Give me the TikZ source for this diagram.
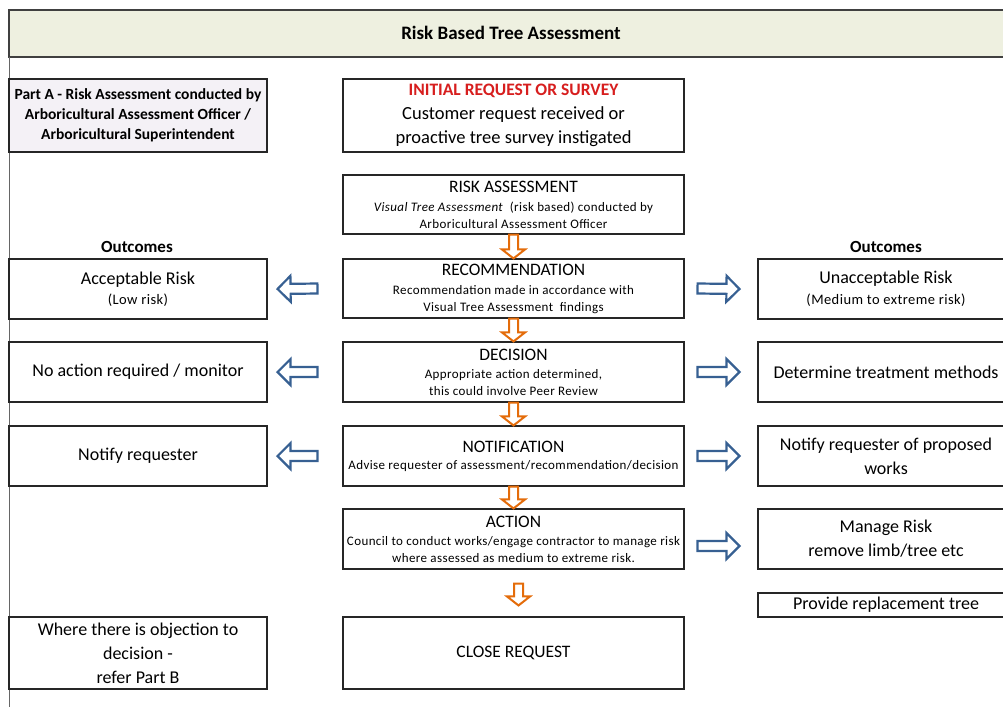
\documentclass[tikz,border=0pt]{standalone}
\usepackage{fontspec}
\setmainfont{Carlito}
\newfontfamily\spacedfont[LetterSpace=3]{Carlito}
\usetikzlibrary{calc}

\definecolor{hdrfill}{RGB}{238,240,224}
\definecolor{partfill}{RGB}{244,241,246}
\definecolor{arrorange}{RGB}{228,108,10}
\definecolor{arrblue}{RGB}{55,96,146}
\definecolor{titlered}{RGB}{215,30,30}

\newcommand\bigtxt{\rmfamily\fontsize{18}{24}\selectfont}
\newcommand\headtxt{\rmfamily\fontsize{17.5}{24}\selectfont}
\newcommand\smalltxt{\spacedfont\fontsize{13}{17}\selectfont}
\newcommand\sidesmall{\spacedfont\fontsize{14.5}{20}\selectfont}

% hollow block arrow: style, from, to, half shaft, half head, head length
\newcommand\blockarrow[6]{%
  \draw[#1] let \p1=(#2), \p2=(#3), \n1={atan2(\y2-\y1,\x2-\x1)}, \n2={veclen(\x2-\x1,\y2-\y1)} in
    [shift={(\p1)}, rotate=\n1]
    (0pt,#4) -- ({\n2*1pt-#6},#4) -- ({\n2*1pt-#6},#5) -- ({\n2*1pt},0pt)
    -- ({\n2*1pt-#6},-#5) -- ({\n2*1pt-#6},-#4) -- (0pt,-#4) -- cycle;}

\begin{document}
\begin{tikzpicture}[x=1pt,y=-1pt,
  box/.style={draw=black!85, line width=1.1pt, fill=white, minimum width=341pt,
    minimum height=60pt, align=center, inner sep=1pt, font=\smalltxt},
  leftbox/.style={box, minimum width=258pt, font=\sidesmall},
  rightbox/.style={box, minimum width=256pt, font=\sidesmall},
  outhead/.style={font=\bfseries\fontsize{17}{20}\selectfont},
  downarr/.style={draw=arrorange, line width=2pt, fill=white},
  sidearr/.style={draw=arrblue, line width=2.2pt, fill=white}]
  \clip (0,0) rectangle (1003,707);
  \fill[white] (0,0) rectangle (1003,707);

  % header and frame
  \draw[black!75, line width=1.2pt, fill=hdrfill] (9,10) rectangle (1020,57);
  \node[font=\bfseries\fontsize{19}{22}\selectfont] (title) at (511,33) {Risk Based Tree Assessment};
  \draw[black!60, line width=1pt] (9,57) -- (9,707);

  % centre column
  \node[box, minimum height=73pt, font=\fontsize{18.5}{24}\selectfont] (init) at (513.5,115.5)
    {{\bfseries\fontsize{17.5}{24}\selectfont\color{titlered}INITIAL REQUEST OR SURVEY}\\Customer request received or\\proactive tree survey instigated};
  \node[box, minimum height=59pt] (risk) at (513.5,204.5)
    {{\headtxt RISK ASSESSMENT}\\[2pt]\textit{Visual Tree Assessment}\ \ (risk based) conducted by\\Arboricultural Assessment Officer};
  \node[box, minimum height=59pt] (rec) at (513.5,288.5)
    {{\headtxt RECOMMENDATION}\\[2pt]Recommendation made in accordance with\\Visual Tree Assessment\ \ findings};
  \node[box] (dec) at (513.5,372)
    {{\headtxt DECISION}\\[1pt]Appropriate action determined,\\this could involve Peer Review};
  \node[box] (notif) at (513.5,456)
    {{\headtxt NOTIFICATION}\\[0pt]Advise requester of assessment/recommendation/decision};
  \node[box] (act) at (513.5,539)
    {{\headtxt ACTION}\\[1pt]Council to conduct works/engage contractor to manage risk\\where assessed as medium to extreme risk.};
  \node[box, minimum height=72pt, font=\headtxt] (close) at (513.5,653) {CLOSE REQUEST};

  % left column
  \node[leftbox, minimum height=73pt, fill=partfill, font=\bfseries\fontsize{15.5}{20}\selectfont] (parta) at (138,115.5)
    {Part A - Risk Assessment conducted by\\Arboricultural Assessment Officer /\\Arboricultural Superintendent};
  \node[outhead] (outl) at (137,247) {Outcomes};
  \node[leftbox] (acc) at (138,289) {{\bigtxt Acceptable Risk}\\(Low risk)};
  \node[leftbox, font=\bigtxt] (noact) at (138,372) {No action required / monitor};
  \node[leftbox, font=\bigtxt] (notify) at (138,456) {Notify requester};
  \node[leftbox, minimum height=72pt, font=\bigtxt] (objection) at (138,653)
    {Where there is objection to\\decision -\\refer Part B};

  % right column
  \node[outhead] (outr) at (886,247) {Outcomes};
  \node[rightbox] (unacc) at (886,289) {{\bigtxt Unacceptable Risk}\\[1pt](Medium to extreme risk)};
  \node[rightbox, font=\bigtxt] (treat) at (886,372) {Determine treatment methods};
  \node[rightbox, font=\bigtxt] (notprop) at (886,456) {Notify requester of proposed\\works};
  \node[rightbox, font=\bigtxt] (manage) at (886,539) {Manage Risk\\remove limb/tree etc};
  \node[rightbox, minimum height=24pt, font=\bigtxt] (replace) at (886,605) {Provide replacement tree};

  % arrows
  \foreach \a/\b in {risk/rec, rec/dec, dec/notif, notif/act}
    \blockarrow{downarr}{\a.south}{\b.north}{4.5pt}{11.5pt}{9pt};
  \blockarrow{downarr}{$(act.south)+(5,14)$}{$(close.north)+(5,-11)$}{4.5pt}{11.5pt}{9pt};
  \foreach \a/\b in {rec/acc, dec/noact, notif/notify}
    \blockarrow{sidearr}{$(\a.west)+(-25,0)$}{$(\b.east)+(10,0)$}{5pt}{13pt}{13pt};
  \foreach \a/\b in {rec/unacc, dec/treat, notif/notprop}
    \blockarrow{sidearr}{$(\a.east)+(13,0)$}{$(\b.west)+(-18,0)$}{5pt}{13pt}{13pt};
  \blockarrow{sidearr}{$(act.east)+(13,7)$}{$(manage.west)+(-18,7)$}{5pt}{13pt}{13pt};
\end{tikzpicture}
\end{document}
